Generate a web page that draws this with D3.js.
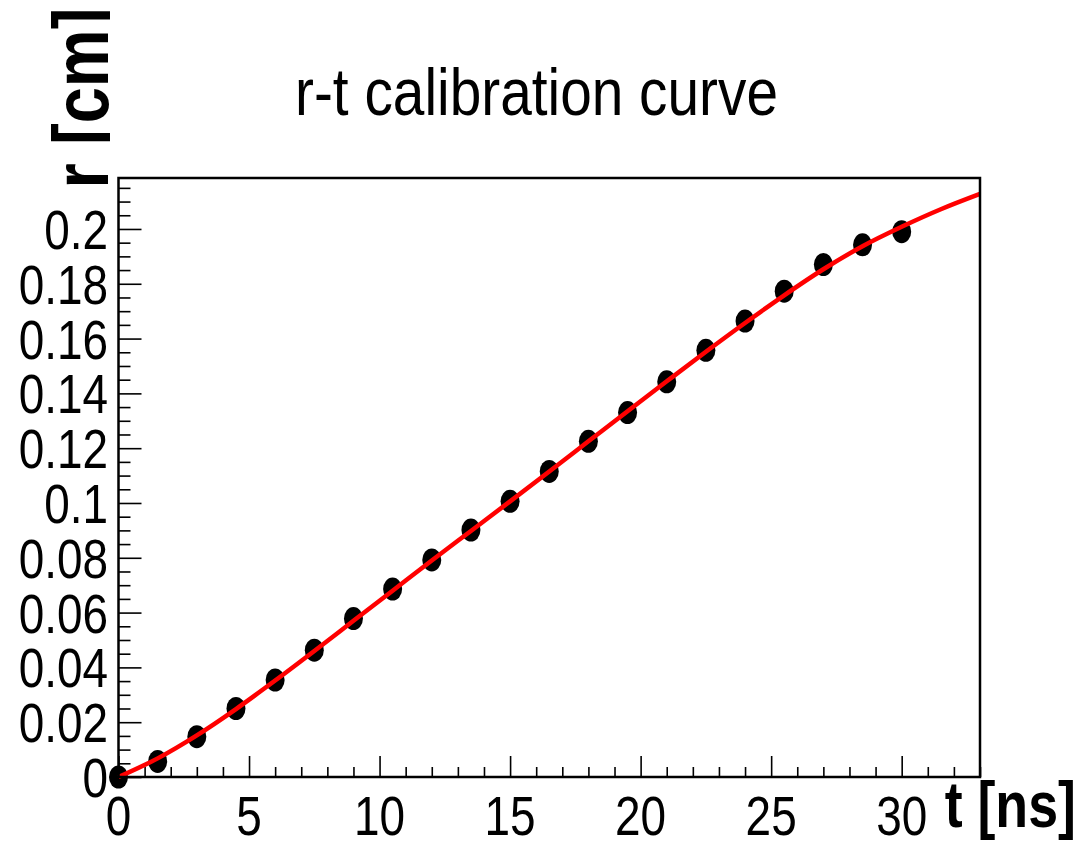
<!DOCTYPE html>
<html>
<head>
<meta charset="utf-8">
<script src="https://cdn.jsdelivr.net/npm/d3@7"></script>
<style>
  body { margin: 0; background: white; }
  text { font-family: "Liberation Sans", Arial, Helvetica, sans-serif; }
</style>
</head>
<body>
<script>
// measured points (t in ns, r in cm)
const tPoints = [0, 1.5, 3, 4.5, 6, 7.5, 9, 10.5, 12, 13.5, 15, 16.5, 18, 19.5, 21, 22.5, 24, 25.5, 27, 28.5, 30];
const rPoints = [0, 0.0057, 0.0147, 0.0250, 0.0354, 0.0463, 0.0578, 0.0686, 0.0792, 0.0901, 0.1006, 0.1115, 0.1225, 0.1330, 0.1442, 0.1557, 0.1664, 0.1773, 0.1870, 0.1942, 0.1990];

// fitted calibration curve (red)
const tFit = [0, 1.5, 3, 4.5, 6, 7.5, 9, 10.5, 12, 13.5, 15, 16.5, 18, 19.5, 21, 22.5, 24, 25.5, 27, 28.5, 30, 31.5, 33];
const rFit = [0, 0.0068, 0.0152, 0.0248, 0.0352, 0.0460, 0.0570, 0.0680, 0.0790, 0.0898, 0.1006, 0.1115, 0.1225, 0.1335, 0.1444, 0.1552, 0.1657, 0.1758, 0.1853, 0.1937, 0.2008, 0.2072, 0.2128];

// axis ticks
const xMajor = [0, 5, 10, 15, 20, 25, 30];
const yMajor = [0, 0.02, 0.04, 0.06, 0.08, 0.1, 0.12, 0.14, 0.16, 0.18, 0.2];
const yLabels = ["0", "0.02", "0.04", "0.06", "0.08", "0.1", "0.12", "0.14", "0.16", "0.18", "0.2"];

const W = 1086, H = 842;
const frameLeft = 118.5, frameRight = 980, frameTop = 178, frameBottom = 777;

const x = d3.scaleLinear().domain([0, 33]).range([frameLeft, frameRight]);
const y = d3.scaleLinear().domain([0, 0.2186]).range([frameBottom, frameTop]);

const svg = d3.select("body").append("svg")
    .attr("width", W)
    .attr("height", H);

// clip for the rotated y title (its descenders are cut in the original)
svg.append("clipPath").attr("id", "yTitleClip")
  .append("rect").attr("x", 0).attr("y", 0).attr("width", 110).attr("height", H);

//title
svg.append("text")
    .attr("x", 536.5)
    .attr("y", 115)
    .attr("text-anchor", "middle")
    .style("font-size", "67px")
    .attr("textLength", 483)
    .attr("lengthAdjust", "spacingAndGlyphs")
    .text("r-t calibration curve");

//minor + major ticks on x
const xAxis = d3.axisBottom(x)
    .tickValues(d3.range(0, 34, 1))
    .tickSize(0)
    .tickFormat("");
svg.append("g")
    .attr("transform", "translate(0," + frameBottom + ")")
    .call(xAxis)
    .call(g => g.select(".domain").remove())
    .call(g => g.selectAll(".tick line")
        .attr("y2", d => xMajor.includes(d) ? -21 : -10)
        .attr("stroke", "black")
        .attr("stroke-width", 1.6));

//minor + major ticks on y
const yAxis = d3.axisLeft(y)
    .tickValues(d3.range(0, 0.2151, 0.005))
    .tickSize(0)
    .tickFormat("");
svg.append("g")
    .attr("transform", "translate(" + frameLeft + ",0)")
    .call(yAxis)
    .call(g => g.select(".domain").remove())
    .call(g => g.selectAll(".tick line")
        .attr("x2", d => (Math.round(d * 1000) % 20 === 0) ? 23 : 12)
        .attr("stroke", "black")
        .attr("stroke-width", 1.6));

//x tick labels
svg.append("g").selectAll("text")
    .data(xMajor)
    .enter()
    .append("text")
    .attr("text-anchor", "middle")
    .attr("transform", d => "translate(" + x(d) + ",835) scale(0.82,1)")
    .style("font-size", "56px")
    .text(d => d);

//y tick labels
svg.append("g").selectAll("text")
    .data(yMajor)
    .enter()
    .append("text")
    .attr("text-anchor", "end")
    .attr("transform", d => "translate(108," + (y(d) + 20) + ") scale(0.82,1)")
    .style("font-size", "56px")
    .text((d, i) => yLabels[i]);

//axis titles
svg.append("text")
    .attr("transform", "translate(1076,827) scale(0.84,1)")
    .attr("text-anchor", "end")
    .style("font-size", "64px")
    .style("font-weight", "bold")
    .text("t [ns]");

svg.append("g")
    .attr("clip-path", "url(#yTitleClip)")
  .append("text")
    .attr("transform", "translate(108,98) rotate(-90)")
    .attr("text-anchor", "middle")
    .style("font-size", "78px")
    .style("font-weight", "bold")
    .attr("textLength", 181)
    .attr("lengthAdjust", "spacingAndGlyphs")
    .text("r [cm]");

//data points
const pts = tPoints.map((t, i) => ({t: t, r: rPoints[i]}));
svg.append("g").selectAll("ellipse")
    .data(pts)
    .enter()
    .append("ellipse")
    .attr("cx", d => x(d.t))
    .attr("cy", d => y(d.r))
    .attr("rx", 9.5)
    .attr("ry", 11.5)
    .style("fill", "black");

//fit curve
const fit = tFit.map((t, i) => ({t: t, r: rFit[i]}));
svg.append("path")
    .datum(fit)
    .attr("d", d3.line().x(d => x(d.t)).y(d => y(d.r)).curve(d3.curveMonotoneX))
    .style("fill", "none")
    .style("stroke", "#ff0000")
    .style("stroke-width", 4.5);

//frame
svg.append("rect")
    .attr("x", frameLeft)
    .attr("y", frameTop)
    .attr("width", frameRight - frameLeft)
    .attr("height", frameBottom - frameTop)
    .style("fill", "none")
    .style("stroke", "black")
    .style("stroke-width", 2.5);
</script>
</body>
</html>
